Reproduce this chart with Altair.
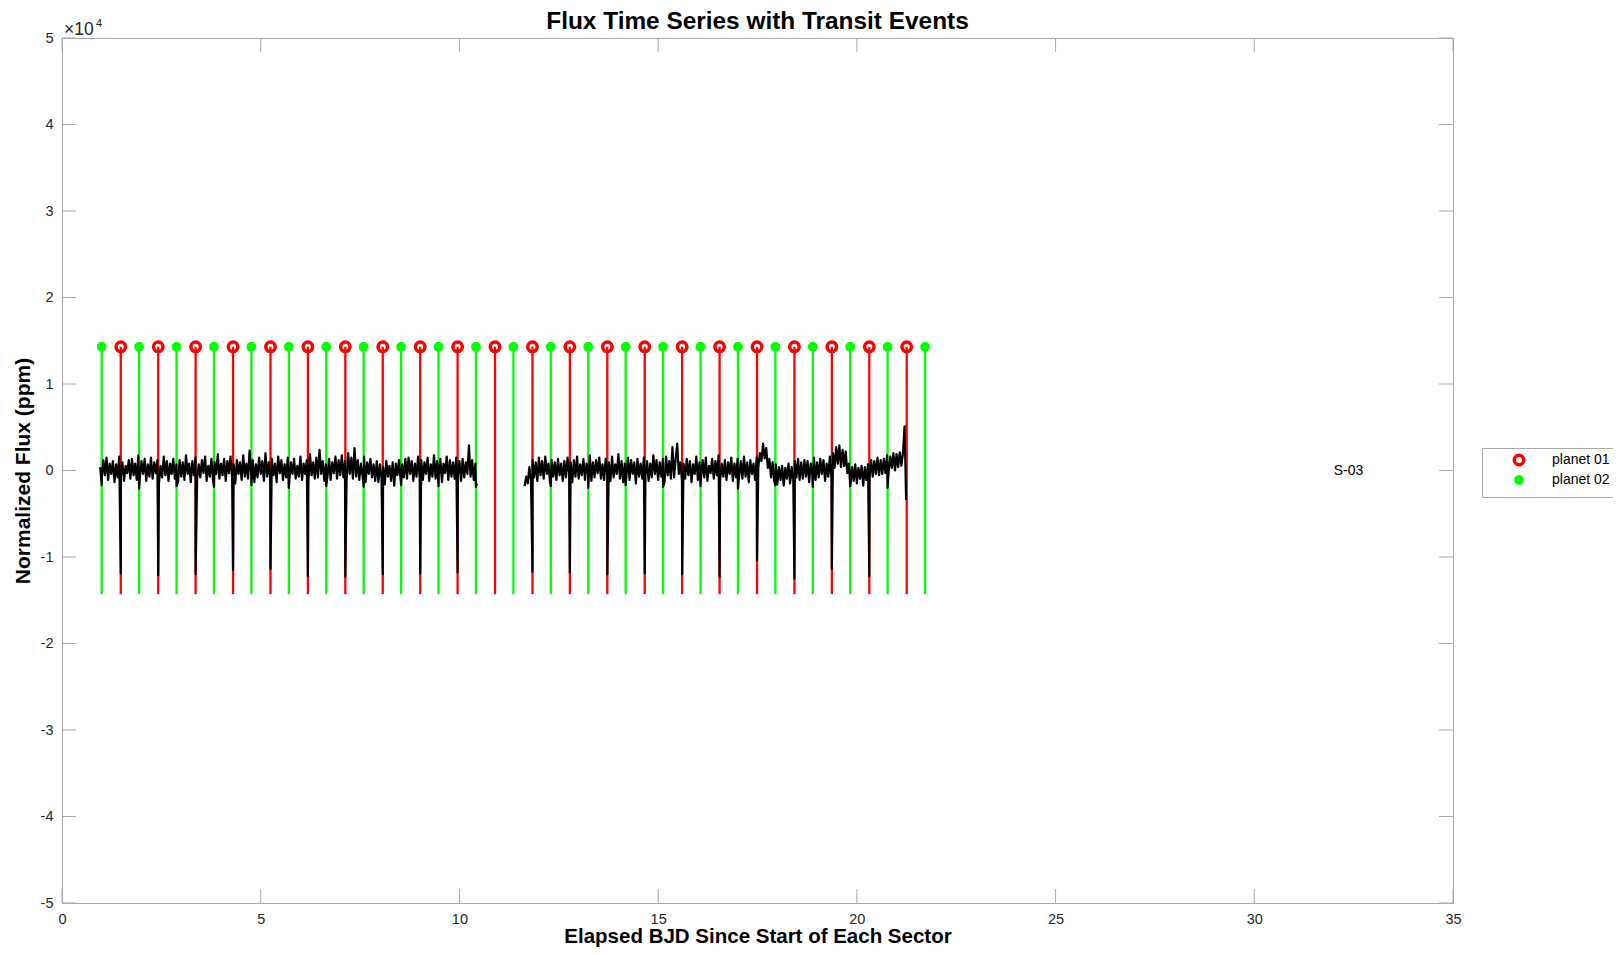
import altair as alt
import pandas as pd

FONT = "Liberation Sans"

# ---------------- data ----------------
planet01_times = [1.479, 2.421, 3.362, 4.304, 5.246, 6.187, 7.129, 8.071, 9.013, 9.954, 10.896,
                  11.838, 12.779, 13.721, 14.663, 15.604, 16.546, 17.488, 18.429, 19.371, 20.313, 21.254]
planet02_times = [0.999, 1.941, 2.882, 3.824, 4.766, 5.708, 6.649, 7.591, 8.533, 9.474, 10.416, 11.358,
                  12.299, 13.241, 14.183, 15.124, 16.066, 17.008, 17.949, 18.891, 19.833, 20.774, 21.716]
marker_level = 14300
stem_low = -14300

# transit dips seen in the flux (primary at planet 01 times, shallow ones at planet 02 times)
primary_dip_times = [1.479, 2.421, 3.362, 4.304, 5.246, 6.187, 7.129, 8.071, 9.013, 9.954,
                     11.838, 12.779, 13.721, 14.663, 15.604, 16.546, 17.488, 18.429, 19.371, 20.313]
primary_dip_depths = [-11900, -12100, -12000, -11500, -11400, -12200, -12300, -12000, -11900, -11800,
                      -11700, -11800, -12000, -11900, -12000, -12300, -10400, -12500, -11400, -12200]
secondary_dip_times = [0.999, 1.941, 2.882, 3.824, 4.766, 5.708, 6.649, 7.591, 8.533, 9.474, 10.416,
                       12.299, 13.241, 14.183, 15.124, 16.066, 17.008, 17.949, 18.891, 19.833, 20.774]
secondary_dip_depths = [-1700, -2100, -1800, -1900, -1700, -2000, -1800, -1900, -1700, -1800, -1900,
                        -1800, -2000, -1700, -1900, -1800, -2100, -1700, -1900, -1800, -2000]

# flux samples (ppm), sector segments before and after the data gap
seg1_start = 0.96
seg2_start = 11.64
cadence = 0.04
seg1_flux = [
    400, -950, 1200, -550, 1500, -1100, 800, -400, 1100, -1350, 700, -800, 1600, -700, 950, -1200, 550, -300, 1200, -950, 1350, -550, 800, -1100, 1750,
    -800, 1100, -400, 1350, -1200, 700, -700, 1500, -950, 950, -300, 1200, -1500, 550, -800, 1600, -550, 1100, -1200, 800, -400, 1350, -950, 700, -1350,
    1200, -700, 950, -1100, 1750, -400, 800, -1350, 1100, -550, 1500, -950, 700, -800, 1200, -300, 1600, -1200, 550, -700, 1350, -1100, 950, -400, 1900,
    -950, 800, -550, 1350, -1200, 1100, -300, 1600, -800, 700, -1500, 1200, -400, 950, -1100, 1750, -700, 800, -950, 2300, -550, 1200, -1350, 700, -800,
    1500, -400, 1100, -1200, 2000, -700, 950, -950, 1350, -550, 800, -1350, 1600, -300, 1200, -1100, 700, -800, 1500, -1200, 950, -400, 1350, -950, 550,
    -700, 1600, -1100, 800, -400, 1200, -1350, 1900, -550, 950, -950, 1500, -800, 2400, -400, 1100, -1200, 700, -700, 1350, -1100, 950, -300, 1600, -950,
    1200, -550, 1750, -800, 1100, -1200, 2000, -400, 1500, -950, 2600, -700, 1200, -1100, 800, -550, 1600, -1350, 950, -400, 1350, -800, 700, -1200, 1100,
    -1350, 700, -950, 400, -1600, 1100, -700, 550, -1200, 950, -1750, 800, -550, 1200, -1100, 700, -800, 1350, -950, 1500, -400, 1100, -1200, 800, -700,
    1600, -800, 1200, -1100, 950, -400, 1500, -1200, 700, -700, 1750, -950, 1100, -550, 1350, -1350, 800, -300, 1600, -1100, 1200, -700, 950, -950, 1500,
    -550, 1100, -1200, 1350, -800, 950, -400, 2900, -700, 1200, -1100, 800, -1500,
]
seg2_flux = [
    -1800, -700, -1500, 400, -1100, 1200, -800, 950, -1200, 1500, -550, 1100, -950, 1600, -400, 800, -1350, 1200, -700, 950, -1100, 1350, -550, 800, -1200,
    1100, -800, 1500, -400, 950, -1350, 1200, -700, 1600, -950, 700, -550, 1350, -1100, 800, -400, 1750, -1200, 950, -800, 1200, -300, 1500, -950, 700,
    -1100, 1350, -550, 950, -1200, 1600, -800, 700, -400, 1900, -950, 1100, -1350, 800, -700, 1500, -1100, 1200, -400, 950, -1500, 1350, -700, 800, -950,
    1500, -550, 1100, -1200, 800, -800, 1750, -400, 1200, -1100, 950, -700, 1350, -1350, 1600, -550, 1100, -950, 2700, -800, 1350, 3100, -400, 950, -1200,
    800, -950, 1350, -550, 1100, -1350, 700, -400, 1600, -1100, 950, -700, 1200, -800, 1500, -1200, 550, -300, 1350, -950, 1100, -550, 1750, -1100, 800,
    -700, 1200, -1100, 950, -400, 1500, -1200, 800, -800, 1350, -550, 1100, -950, 1600, -700, 950, -1350, 1200, -400, 800, -1100, 1500, 300, 2000, 1100,
    3100, 1400, 2600, 300, 1350, -800, 950, -1200, 700, -1600, 400, -1100, 550, -1750, 300, -950, 800, -1500, 400, -1200, 1100, -800, 1350, -1100, 950,
    -950, 1200, -700, 1100, -1350, 800, -550, 1500, -1100, 950, -800, 1350, -400, 1200, -1200, 800, -700, 1600, -950, 2000, 300, 2700, 800, 2900, 400,
    2400, 500, 2200, -300, 800, -1600, 400, -1200, 700, -1500, 300, -950, 550, -1750, 400, -1100, 700, -800, 1200, -700, 1100, -400, 1500, -550, 1200,
    -400, 1350, -300, 1750, -150, 1600, 300, 2000, 0, 1900, 400, 2100, 550, 2000, 5100, -3400,
]

sector_label = "S-03"
sector_label_x = 32.0
sector_label_y = 0

chart_title = "Flux Time Series with Transit Events"
x_ticks = [0, 5, 10, 15, 20, 25, 30, 35]
y_ticks = [-50000, -40000, -30000, -20000, -10000, 0, 10000, 20000, 30000, 40000, 50000]
planet_names = ["planet 01", "planet 02"]

# ---------------- tables ----------------
rows = []
for i, f in enumerate(seg1_flux):
    rows.append({"t": seg1_start + i * cadence, "flux": f, "seg": "a"})
for i, f in enumerate(seg2_flux):
    rows.append({"t": seg2_start + i * cadence, "flux": f, "seg": "b"})
for t, d in zip(primary_dip_times, primary_dip_depths):
    rows.append({"t": t, "flux": d, "seg": "a" if t < 11 else "b"})
for t, d in zip(secondary_dip_times, secondary_dip_depths):
    rows.append({"t": t, "flux": d, "seg": "a" if t < 11 else "b"})
flux_df = pd.DataFrame(rows).sort_values("t").reset_index(drop=True)

red_df = pd.DataFrame({"t": planet01_times, "low": stem_low, "high": marker_level, "planet": planet_names[0]})
green_df = pd.DataFrame({"t": planet02_times, "low": stem_low, "high": marker_level, "planet": planet_names[1]})
marker_df = pd.concat([green_df, red_df], ignore_index=True)

label_df = pd.DataFrame({"x": [sector_label_x], "y": [sector_label_y], "label": [sector_label]})
xt_df = pd.DataFrame({"v": x_ticks})
yt_df = pd.DataFrame({"v": y_ticks})

# ---------------- chart ----------------
W, H = 1391, 865
FRAME = "#a8a8a8"

xs = alt.Scale(domain=[0, 35], nice=False, zero=False)
ys = alt.Scale(domain=[-50000, 50000], nice=False, zero=False)

x_axis = alt.Axis(values=x_ticks, ticks=False, domain=False, grid=False, labelFlush=False,
                  labelPadding=9, labelFontSize=14.5, labelFont=FONT, labelColor="#262626",
                  title="Elapsed BJD Since Start of Each Sector", titleFont=FONT, titleFontSize=20.5,
                  titleFontWeight="bold", titleColor="#000000", titleY=33, titleBaseline="middle")
y_axis = alt.Axis(values=y_ticks, ticks=False, domain=False, grid=False, labelFlush=False,
                  labelExpr="datum.value / 10000", labelPadding=9, labelFontSize=14.5, labelFont=FONT,
                  labelColor="#262626", title="Normalized Flux (ppm)", titleFont=FONT, titleFontSize=21,
                  titleFontWeight="bold", titleColor="#000000", titleX=-39, titleY=H / 2,
                  titleAngle=270, titleAlign="center", titleBaseline="middle")


def X(field):
    return alt.X(field, type="quantitative", scale=xs, axis=x_axis)


def Y(field):
    return alt.Y(field, type="quantitative", scale=ys, axis=y_axis)


green_stems = alt.Chart(green_df).mark_rule(color="#00ff00", strokeWidth=2.3).encode(
    x=X("t"), y=Y("low"), y2="high")
red_stems = alt.Chart(red_df).mark_rule(color="#ff0000", strokeWidth=2.3).encode(
    x=X("t"), y=Y("low"), y2="high")

flux_line = alt.Chart(flux_df).mark_line(color="black", strokeWidth=2.2, strokeJoin="round").encode(
    x=X("t"), y=Y("flux"), detail="seg:N", order="t:Q")

ASTERISK = "M -1 0 L 1 0 M 0 -1 L 0 1 M -0.72 -0.72 L 0.72 0.72 M -0.72 0.72 L 0.72 -0.72"
leg = alt.Legend(title=None, orient="none", legendX=1420, legendY=410)
markers = alt.Chart(marker_df).mark_point(filled=False, size=90, strokeWidth=3.5, opacity=1).encode(
    x=X("t"), y=Y("high"),
    color=alt.Color("planet:N", scale=alt.Scale(domain=planet_names, range=["#ff0000", "#00ff00"]), legend=leg),
    shape=alt.Shape("planet:N", scale=alt.Scale(domain=planet_names, range=["circle", ASTERISK]), legend=leg),
)

sector_text = alt.Chart(label_df).mark_text(align="left", baseline="middle", font=FONT, fontSize=14,
                                            color="#000000").encode(x=X("x"), y=Y("y"), text="label:N")

tick_bottom = alt.Chart(xt_df).mark_rule(color=FRAME, strokeWidth=1).encode(
    x=X("v"), y=alt.value(H), y2=alt.value(H - 14))
tick_top = alt.Chart(xt_df).mark_rule(color=FRAME, strokeWidth=1).encode(
    x=X("v"), y=alt.value(0), y2=alt.value(14))
tick_left = alt.Chart(yt_df).mark_rule(color=FRAME, strokeWidth=1).encode(
    y=Y("v"), x=alt.value(0), x2=alt.value(14))
tick_right = alt.Chart(yt_df).mark_rule(color=FRAME, strokeWidth=1).encode(
    y=Y("v"), x=alt.value(W), x2=alt.value(W - 14))

exp_df = pd.DataFrame({"s": ["\u00d710"], "p": ["4"], "title": [chart_title]})
exp_base = alt.Chart(exp_df).mark_text(align="left", baseline="middle", font=FONT, fontSize=17.5,
                                       color="#262626").encode(x=alt.value(2), y=alt.value(-8), text="s:N")
exp_pow = alt.Chart(exp_df).mark_text(align="left", baseline="middle", font=FONT, fontSize=11,
                                      color="#262626").encode(x=alt.value(34), y=alt.value(-14), text="p:N")
title_mark = alt.Chart(exp_df).mark_text(align="center", baseline="middle", font=FONT, fontSize=24.4,
                                         fontWeight="bold", color="#000000").encode(
    x=alt.value(W / 2), y=alt.value(-16), text="title:N")

chart = alt.layer(
    tick_bottom, tick_top, tick_left, tick_right,
    green_stems, red_stems, flux_line, markers, sector_text, exp_base, exp_pow, title_mark,
).properties(
    width=W, height=H,
    autosize=alt.AutoSizeParams(type="none"),
    padding={"left": 54, "top": 30, "right": 160, "bottom": 44},
).configure_view(
    stroke=FRAME, strokeWidth=1
).configure_legend(
    padding=5, strokeColor=FRAME, fillColor="white", labelFont=FONT, labelFontSize=14,
    labelColor="#000000", symbolSize=90, symbolStrokeWidth=3.5, symbolOffset=25, labelOffset=26,
    rowPadding=-4, cornerRadius=0
)

chart.save("out.html", embed_options={"renderer": "svg", "actions": False})
